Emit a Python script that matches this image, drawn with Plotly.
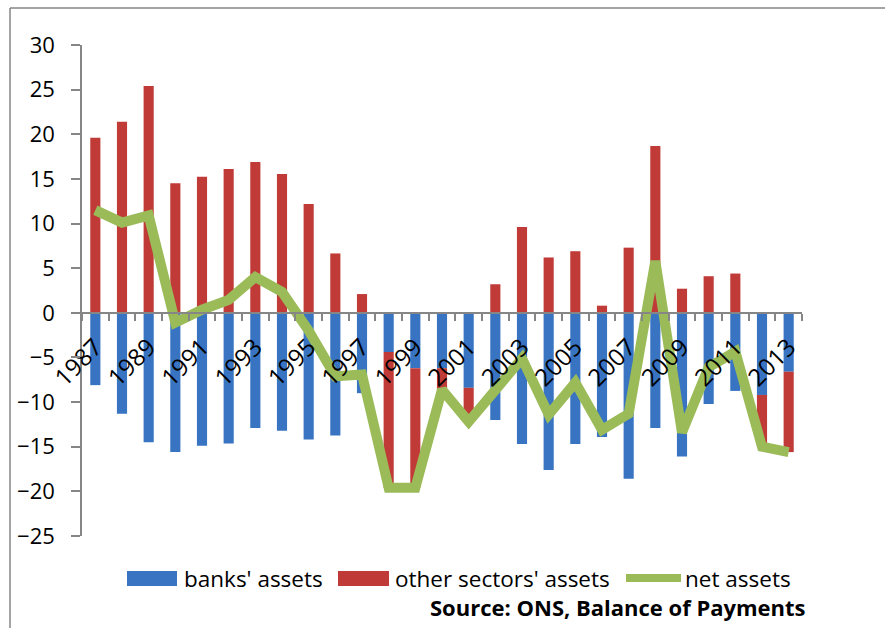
import plotly.graph_objects as go

# UK external assets flows (£bn), ONS Balance of Payments
years = list(range(1987, 2014))
banks_assets = [-8.1, -11.3, -14.5, -15.6, -14.9, -14.65, -12.9, -13.2, -14.2, -13.75,
                -9.0, -4.4, -6.2, -6.2, -8.4, -12.0, -14.7, -17.6, -14.7, -13.9,
                -18.6, -12.9, -16.1, -10.2, -8.75, -9.2, -6.6]
other_assets = [19.6, 21.4, 25.4, 14.5, 15.25, 16.1, 16.9, 15.55, 12.2, 6.65,
                2.1, -15.2, -13.4, -2.4, -3.8, 3.2, 9.6, 6.2, 6.9, 0.8,
                7.3, 18.7, 2.7, 4.1, 4.4, -5.8, -9.0]
net_assets = [11.5, 10.1, 10.9, -1.1, 0.35, 1.45, 4.0, 2.35, -2.0, -7.1,
              -6.9, -19.6, -19.6, -8.6, -12.2, -8.8, -5.1, -11.4, -7.8, -13.1,
              -11.3, 5.8, -13.4, -6.1, -4.35, -15.0, -15.6]
label_years = years[::2]
y_min, y_max = -25, 30

W, H = 885, 628
M_L, M_R, M_T, M_B = 82, 83, 45, 92
PW, PH = W - M_L - M_R, H - M_T - M_B

BLUE = "#3874c2"
RED = "#c03a37"
GREEN = "#9bbb59"
AXIS = "#868686"
FONT = "Open Sans"


def px_x(px):
    return (px - M_L) / PW


def px_y(py):
    return (H - M_B - py) / PH


fig = go.Figure()
fig.add_trace(go.Bar(x=years, y=banks_assets, name="banks' assets",
                     marker=dict(color=BLUE, line=dict(width=0)), width=0.38))
fig.add_trace(go.Bar(x=years, y=other_assets, name="other sectors' assets",
                     marker=dict(color=RED, line=dict(width=0)), width=0.38))
fig.add_trace(go.Scatter(x=years, y=net_assets, name="net assets", mode="lines",
                         line=dict(color=GREEN, width=10)))

boundaries = [y - 0.5 for y in years] + [years[-1] + 0.5]

fig.update_layout(
    width=W, height=H,
    margin=dict(l=M_L, r=M_R, t=M_T, b=M_B),
    paper_bgcolor="white", plot_bgcolor="white",
    barmode="relative",
    showlegend=False,
    font=dict(family=FONT, size=22, color="black"),
    xaxis=dict(
        range=[years[0] - 0.5, years[-1] + 0.5],
        anchor="free", position=(0 - y_min) / (y_max - y_min),
        tickmode="array", tickvals=label_years,
        ticktext=[str(y) for y in label_years],
        tickangle=-45, ticks="", ticklen=0,
        tickfont=dict(size=24),
        showline=True, linecolor=AXIS, linewidth=1.5,
        showgrid=False, zeroline=False,
        ticklabelstandoff=10,
        minor=dict(tickmode="array", tickvals=boundaries, ticks="outside",
                   ticklen=7, tickcolor=AXIS, tickwidth=1.5, showgrid=False),
    ),
    yaxis=dict(
        range=[y_min, y_max], dtick=5, tick0=0,
        ticks="outside", ticklen=9, tickcolor=AXIS, tickwidth=1.5,
        showline=True, linecolor=AXIS, linewidth=1.5,
        showgrid=False, zeroline=False,
        ticklabelstandoff=12,
    ),
)

# chart frame (top and left edges)
frame = dict(color=AXIS, width=1.5)
fig.add_shape(type="line", xref="paper", yref="paper",
              x0=px_x(10), x1=px_x(W + 20), y0=px_y(8), y1=px_y(8), line=frame)
fig.add_shape(type="line", xref="paper", yref="paper",
              x0=px_x(10), x1=px_x(10), y0=px_y(8), y1=px_y(H + 20), line=frame)

# legend row
leg_y = 578
fig.add_shape(type="rect", xref="paper", yref="paper",
              x0=px_x(127), x1=px_x(177), y0=px_y(571), y1=px_y(586),
              fillcolor=BLUE, line=dict(width=0))
fig.add_annotation(x=px_x(182), y=px_y(leg_y), xref="paper", yref="paper",
                   text="banks' assets", showarrow=False, xanchor="left",
                   yanchor="middle", font=dict(size=22.5))
fig.add_shape(type="rect", xref="paper", yref="paper",
              x0=px_x(338), x1=px_x(389), y0=px_y(571), y1=px_y(586),
              fillcolor=RED, line=dict(width=0))
fig.add_annotation(x=px_x(393), y=px_y(leg_y), xref="paper", yref="paper",
                   text="other sectors' assets", showarrow=False, xanchor="left",
                   yanchor="middle", font=dict(size=22.5))
fig.add_shape(type="line", xref="paper", yref="paper",
              x0=px_x(626), x1=px_x(681), y0=px_y(leg_y), y1=px_y(leg_y),
              line=dict(color=GREEN, width=8))
fig.add_annotation(x=px_x(683), y=px_y(leg_y), xref="paper", yref="paper",
                   text="net assets", showarrow=False, xanchor="left",
                   yanchor="middle", font=dict(size=22.5))
fig.add_annotation(x=px_x(808), y=px_y(607), xref="paper", yref="paper",
                   text="<b>Source: ONS, Balance of Payments</b>", showarrow=False,
                   xanchor="right", yanchor="middle", font=dict(size=22))

fig.write_html("out.html")
